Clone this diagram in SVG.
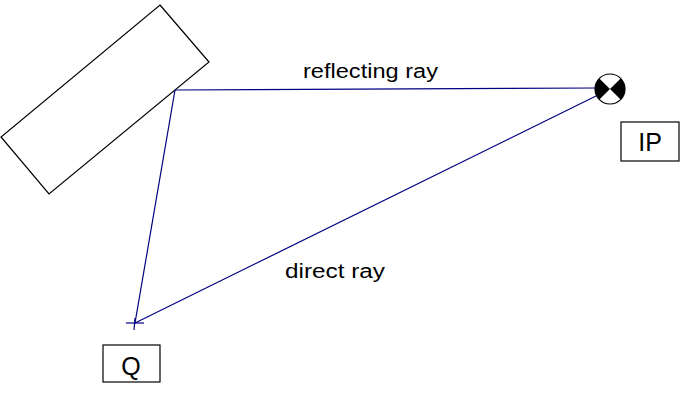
<svg xmlns="http://www.w3.org/2000/svg" width="692" height="402" viewBox="0 0 692 402">
<style>
.ray{stroke:#000080;stroke-width:1.2;fill:none}
.outline{stroke:#000;stroke-width:1.2;fill:none}
.lbl{font-family:"Liberation Sans",Arial,sans-serif;font-size:20px;fill:#000}
.box{font-family:"Liberation Sans",Arial,sans-serif;font-size:25px;fill:#000;text-anchor:middle}
</style>
<rect width="692" height="402" fill="#fff"/>
<g id="mirror">
<polygon class="outline" points="160,5 209,62 49,194 1,137"/>
</g>
<g id="connectors">
<line class="ray" x1="175" y1="90" x2="597" y2="88"/>
<line class="ray" x1="175" y1="90" x2="135" y2="323"/>
<line class="ray" x1="135" y1="323" x2="596" y2="96"/>
</g>
<g id="labels">
<text class="lbl" x="303" y="78" textLength="135" lengthAdjust="spacingAndGlyphs">reflecting ray</text>
<text class="lbl" x="285" y="278" textLength="100" lengthAdjust="spacingAndGlyphs">direct ray</text>
</g>
<g id="IP-source">
<circle cx="610" cy="89" r="15" fill="#fff" stroke="#000" stroke-width="1.2"/>
<path d="M610,89 L599.4,78.4 A15,15 0 0,0 599.4,99.6 Z M610,89 L620.6,78.4 A15,15 0 0,1 620.6,99.6 Z" fill="#000"/>
</g>
<g id="IP">
<rect class="outline" x="621" y="122" width="58" height="39"/>
<text class="box" x="650" y="151">IP</text>
</g>
<g id="Q-point">
<line stroke="#000080" stroke-width="1.2" x1="126" y1="323" x2="144" y2="323"/>
<line stroke="#000080" stroke-width="1.2" x1="135" y1="318" x2="134" y2="330"/>
</g>
<g id="Q">
<rect class="outline" x="103" y="345" width="57" height="37"/>
<text class="box" x="131" y="375">Q</text>
</g>
</svg>
